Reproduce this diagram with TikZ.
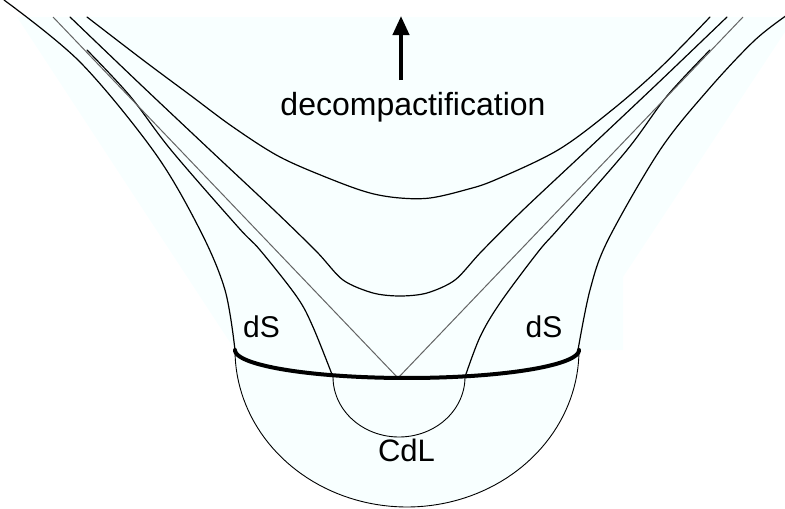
\documentclass[tikz,border=0pt]{standalone}
\usepackage{fontspec}
\setmainfont{Liberation Sans}
\usetikzlibrary{arrows.meta}
\definecolor{bgfill}{RGB}{248,255,255}
\definecolor{rayGray}{RGB}{100,100,100}
\tikzset{
  curve/.style={black, line width=1.2pt, line join=round, line cap=round},
  thincurve/.style={black, line width=0.9pt},
  ray/.style={rayGray, line width=1pt},
  brane/.style={black, line width=4pt, line cap=round},
  lbl/.style={anchor=base, inner sep=0pt, font=\fontsize{31}{31}\selectfont},
}
\begin{document}
\begin{tikzpicture}[x=1pt, y=-1pt]
\useasboundingbox (0,0) rectangle (785,509);
% faint background
\fill[bgfill] (17,17) -- (785,17) -- (785,32) -- (623,277) -- (623,350) -- (579,350)
  -- plot[domain=0:180, samples=60] ({407+172*cos(\x)},{350+157*sin(\x)}) -- cycle;
% outer curve
\draw[curve] plot[smooth, tension=0.55] coordinates {(4,0) (80,62) (155,153) (200,230) (225,290) (235,350)};
\draw[curve] plot[smooth, tension=0.55] coordinates {(578,350) (590,290) (608,240) (660,150) (708,90) (755,40) (790,13)};
\draw[thincurve] plot[domain=0:180, samples=80] ({407-172*cos(\x)},{350+157*sin(\x)});
% curve A
\draw[curve] plot[smooth, tension=0.55] coordinates {(87,50) (130,96) (171,150) (238,227) (260,250) (297,297) (313,327) (333,377)};
\draw[curve] plot[smooth, tension=0.55] coordinates {(710,50) (667,96) (627,150) (560,227) (538,252) (500,303) (480,337) (465,377)};
\draw[thincurve] plot[domain=0:180, samples=60] ({399-66*cos(\x)},{377+60*sin(\x)});
% curve B
\draw[curve] plot[smooth, tension=0.5] coordinates {(70,17) (140,84) (210,150) (275,211) (317,252) (343,280) (373,293) (400,296) (427,293) (455,280) (481,252) (522,211) (587,150) (657,84) (727,17)};
% curve C
\draw[curve] plot[smooth, tension=0.55] coordinates {(87,17) (143,60) (190,95) (233,127) (280,157) (333,180) (370,193) (400,198) (430,198) (465,190) (495,180) (558,150) (612,110) (660,68) (710,17)};
% rays
\coordinate (rl) at (53,17);
\coordinate (apex) at (398,378);
\coordinate (rr) at (743,17);
\draw[ray] (rl) -- (apex) -- (rr);
% thick brane
\draw[brane] plot[domain=0:180, samples=80] ({407-172*cos(\x)},{350+28*sin(\x)});
% arrow
\coordinate (a0) at (401,80);
\coordinate (a1) at (401,16);
\draw[line width=4pt, -{Triangle[length=19pt,width=16pt]}] (a0) -- (a1);
% labels
\node[lbl, font=\fontsize{32}{32}\selectfont] (decomp) at (413,115) {decompactification};
\node[lbl, font=\fontsize{30}{30}\selectfont] (dsL) at (261.5,337) {dS};
\node[lbl, font=\fontsize{30}{30}\selectfont] (dsR) at (544,337) {dS};
\node[lbl] (cdl) at (406.5,461) {CdL};
\end{tikzpicture}
\end{document}
